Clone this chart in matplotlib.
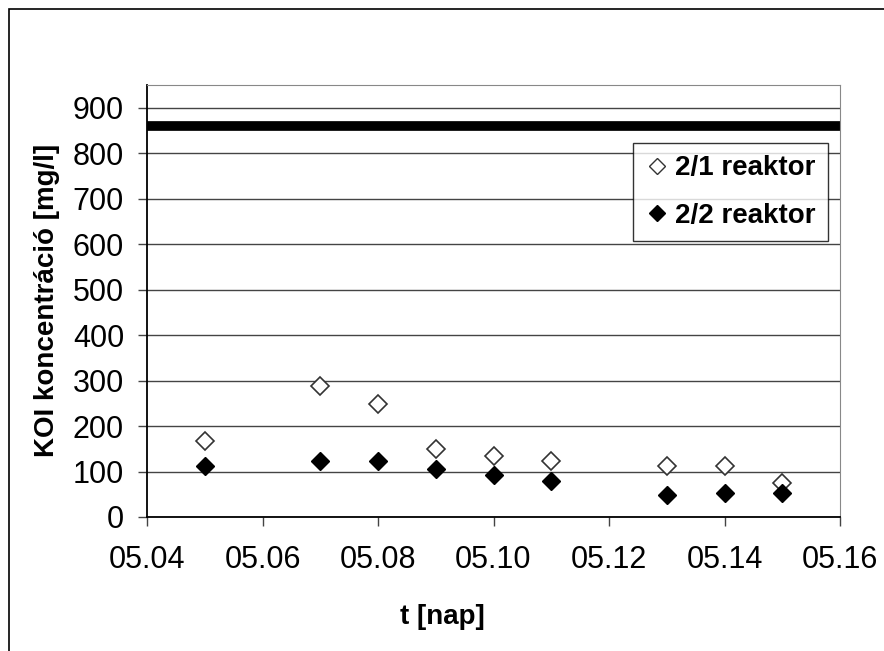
import matplotlib.pyplot as plt
from matplotlib.patches import Rectangle
from matplotlib.lines import Line2D

plt.rcParams['font.family'] = ['Liberation Sans', 'DejaVu Sans']

# sampling days (month.day written as a decimal)
napok = [5.05, 5.07, 5.08, 5.09, 5.10, 5.11, 5.13, 5.14, 5.15]
reaktor_21 = [168, 289, 249, 150, 135, 124, 113, 113, 75]
reaktor_22 = [113, 124, 124, 106, 93, 79, 49, 53, 53]
hatarertek = 860
x_ticks = [5.04, 5.06, 5.08, 5.10, 5.12, 5.14, 5.16]
y_ticks = [0, 100, 200, 300, 400, 500, 600, 700, 800, 900]

fig = plt.figure(figsize=(8.84, 6.51), dpi=100)
ax = fig.add_axes([147/884, 1-517/651, (840-147)/884, (517-85)/651])

# outer chart border (right and bottom edges fall outside the image)
fig.patches.append(Rectangle((9/884, -0.1), 1.2, 1.1-9/651, transform=fig.transFigure,
                             fill=False, edgecolor='black', lw=1.2))

ax.set_xlim(5.04, 5.16)
ax.set_ylim(0, 950)
ax.set_xticks(x_ticks)
ax.set_xticklabels(['%05.2f' % v for v in x_ticks])
ax.set_yticks(y_ticks)
ax.yaxis.grid(True, color='#444444', lw=1)
ax.set_axisbelow(True)

ax.axhline(hatarertek, color='black', lw=7, solid_capstyle='butt')
ax.plot(napok, reaktor_21, 'D', ms=9, mfc='white', mec='#333333', mew=1.2, ls='none')
ax.plot(napok, reaktor_22, 'D', ms=9, mfc='black', mec='black', ls='none')

for s in ['top', 'right']:
    ax.spines[s].set_color('#888888')
for s in ['left', 'bottom']:
    ax.spines[s].set_color('black')
    ax.spines[s].set_linewidth(1.3)

ax.tick_params(direction='out', length=6.5, width=1, labelsize=22, color='#444444')
ax.tick_params(axis='y', pad=10)
ax.tick_params(axis='x', pad=14)

ax.set_xlabel('t [nap]', fontsize=20, fontweight='bold', va='center')
ax.xaxis.set_label_coords(0.5, 1-617/651, transform=fig.transFigure)
ax.set_ylabel('KOI koncentráció [mg/l]', fontsize=20, fontweight='bold', va='center',
              family=['Liberation Sans Narrow', 'Liberation Sans', 'DejaVu Sans'])
ax.yaxis.set_label_coords(47/884, 1-300/651, transform=fig.transFigure)

handles = [Line2D([], [], marker='D', ls='none', ms=8, mfc='white', mec='#333333'),
           Line2D([], [], marker='D', ls='none', ms=8, mfc='black', mec='black')]
leg = ax.legend(handles, ['2/1 reaktor', '2/2 reaktor'], loc='upper right',
                bbox_to_anchor=(828/884, 1-143/651), bbox_transform=fig.transFigure,
                prop={'size': 20, 'weight': 'bold'}, frameon=True, fancybox=False,
                edgecolor='black', handlelength=0.8, handletextpad=0.25,
                labelspacing=0.76, borderpad=0.45, borderaxespad=0)
leg.get_frame().set_linewidth(1)

fig.savefig('out.png', dpi=100)
